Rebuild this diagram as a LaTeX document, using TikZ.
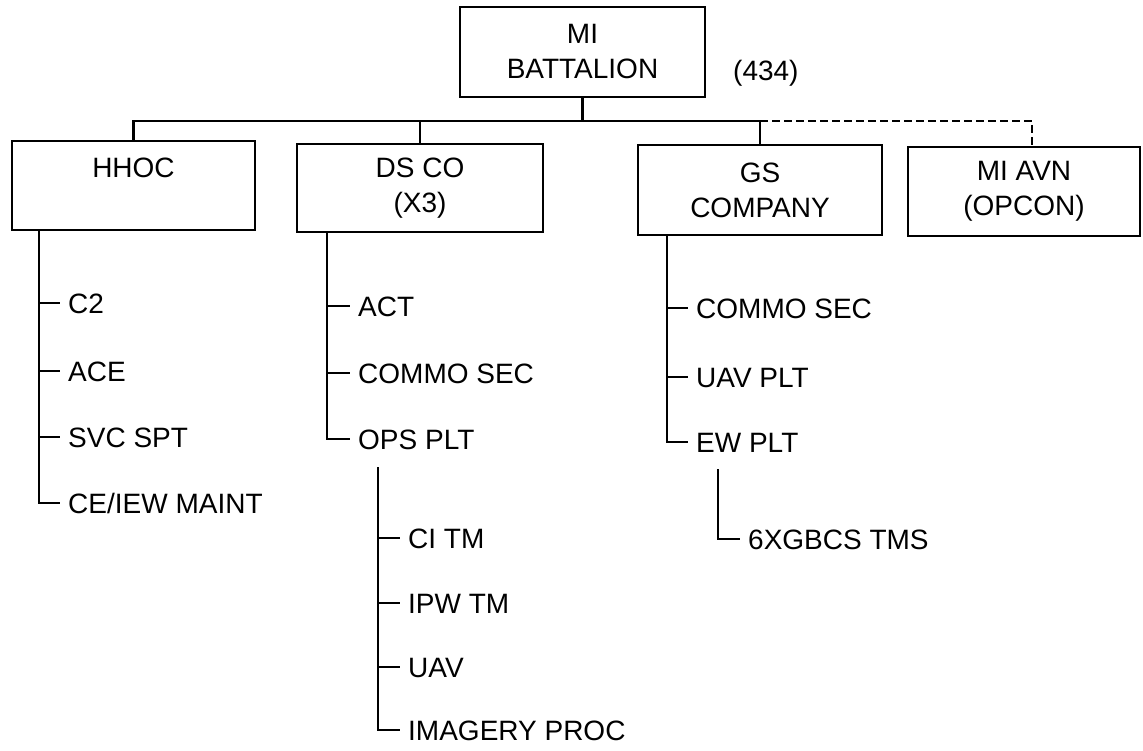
\documentclass[tikz,border=0pt]{standalone}
\usepackage{fontspec}
\setmainfont{Liberation Sans}
\begin{document}
\begin{tikzpicture}[x=1pt,y=-1pt,
  box/.style={draw,line width=1.8pt,align=center,inner sep=0pt,font=\fontsize{28}{35}\selectfont},
  leaf/.style={anchor=west,inner xsep=8pt,inner ysep=0pt,text height=20pt,text depth=0pt,font=\fontsize{28}{34}\selectfont},
  link/.style={line width=2.4pt},
  dlink/.style={line width=2.4pt,dash pattern=on 8pt off 4pt},
]
\useasboundingbox (0,0) rectangle (1143,750);
\fill[white] (0,0) rectangle (1143,750);

% boxes
\node[box,minimum width=245pt,minimum height=90pt] (bat) at (582.5,52) {MI\\BATTALION};
\node[leaf,inner xsep=0pt] (num) at (733,70) {(434)};
\node[box,minimum width=243pt,minimum height=89pt] (hhoc) at (133.5,185.5) {HHOC\\\vphantom{H}};
\node[box,minimum width=246pt,minimum height=88pt] (ds) at (420,188) {DS CO\\(X3)};
\node[box,minimum width=244pt,minimum height=90pt] (gs) at (760,190) {GS\\COMPANY};
\node[box,minimum width=232pt,minimum height=89pt] (avn) at (1024,191.5) {MI AVN\\(OPCON)};

% top connectors
\draw[link] (bat.south) -- ++(0,23) coordinate (busc);
\draw[link] (hhoc.north) -- (hhoc.north |- busc) -- (gs.north |- busc) -- (gs.north);
\draw[link] (ds.north) -- (ds.north |- busc);
\coordinate (avntop) at ([xshift=8pt]avn.north);
\draw[dlink] (gs.north |- busc) -| (avntop);

% HHOC tree
\node[leaf] (c2) at (60,303) {C2};
\node[leaf] (ace) at (60,371) {ACE};
\node[leaf] (svc) at (60,437) {SVC SPT};
\node[leaf] (cemaint) at (60,503) {CE/IEW MAINT};
\coordinate (hv) at (39,0);
\draw[link] (hv |- hhoc.south) |- (cemaint.west);
\foreach \n in {c2,ace,svc} \draw[link] (hv |- \n.west) -- (\n.west);

% DS CO tree
\node[leaf] (act) at (350,306) {ACT};
\node[leaf] (commoa) at (350,373) {COMMO SEC};
\node[leaf] (ops) at (350,439) {OPS PLT};
\coordinate (dv) at (327,0);
\draw[link] (dv |- ds.south) |- (ops.west);
\foreach \n in {act,commoa} \draw[link] (dv |- \n.west) -- (\n.west);

% OPS PLT tree
\node[leaf] (citm) at (400,538) {CI TM};
\node[leaf] (ipw) at (400,603) {IPW TM};
\node[leaf] (uav) at (400,667) {UAV};
\node[leaf] (imag) at (400,730) {IMAGERY PROC};
\coordinate (otop) at (378,467);
\draw[link] (otop) |- (imag.west);
\foreach \n in {citm,ipw,uav} \draw[link] (otop |- \n.west) -- (\n.west);

% GS tree
\node[leaf] (commob) at (688,308) {COMMO SEC};
\node[leaf] (uavplt) at (688,377) {UAV PLT};
\node[leaf] (ewplt) at (688,442) {EW PLT};
\coordinate (gv) at (667,0);
\draw[link] (gv |- gs.south) |- (ewplt.west);
\foreach \n in {commob,uavplt} \draw[link] (gv |- \n.west) -- (\n.west);

% EW PLT tree
\node[leaf] (gbcs) at (740,539) {6XGBCS TMS};
\coordinate (etop) at (718,469);
\draw[link] (etop) |- (gbcs.west);
\end{tikzpicture}
\end{document}
